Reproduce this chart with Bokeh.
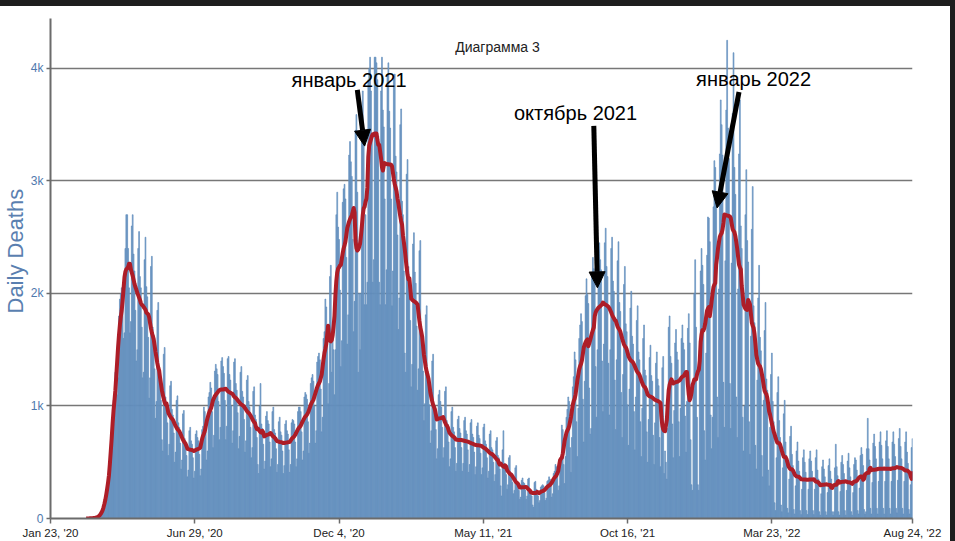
import numpy as np
import pandas as pd
from bokeh.plotting import figure
from bokeh.models import (ColumnDataSource, FixedTicker, Label, Arrow, NormalHead,
                          Spacer, Range1d, Title)
from bokeh.layouts import column, row
from bokeh.embed import file_html
from bokeh.resources import INLINE

# ---------------- data (daily deaths, one row per week Thu..Wed) ----------------
START_DATE = "2020-01-23"
WEEKLY_DEATHS = [
    [0, 0, 0, 0, 0, 0, 0],
    [0, 0, 0, 0, 0, 0, 0],
    [0, 0, 0, 0, 0, 0, 0],
    [0, 0, 0, 0, 0, 0, 0],
    [0, 0, 0, 0, 0, 0, 0],
    [0, 0, 0, 0, 0, 0, 0],
    [1, 1, 2, 1, 3, 4, 5],
    [6, 8, 10, 12, 18, 25, 30],
    [50, 60, 90, 110, 140, 200, 250],
    [300, 380, 450, 500, 600, 900, 1050],
    [1100, 1300, 1250, 1100, 1250, 1800, 1950],
    [2000, 2050, 1900, 1600, 1650, 2400, 2700],
    [2700, 2400, 2050, 1650, 1750, 2600, 2700],
    [2350, 2200, 1850, 1400, 1500, 2400, 2550],
    [2150, 2050, 1700, 1250, 1300, 2300, 2500],
    [2060, 1970, 1610, 1070, 1250, 2240, 2330],
    [1700, 1630, 1330, 890, 1040, 1850, 1920],
    [1350, 1290, 1050, 700, 600, 1460, 1520],
    [1080, 1030, 850, 560, 660, 1180, 1220],
    [970, 920, 760, 500, 590, 1050, 1090],
    [850, 810, 670, 440, 520, 930, 960],
    [710, 680, 560, 370, 430, 780, 810],
    [690, 660, 540, 360, 420, 750, 780],
    [720, 690, 570, 380, 440, 790, 820],
    [990, 950, 770, 520, 600, 1080, 1120],
    [1210, 1160, 950, 630, 740, 1310, 1370],
    [1330, 1280, 1040, 700, 810, 1400, 1430],
    [1350, 1290, 1050, 700, 820, 1420, 1440],
    [1280, 1230, 1000, 670, 780, 1390, 1420],
    [1200, 1140, 940, 620, 730, 1300, 1350],
    [1130, 1080, 880, 590, 690, 1230, 1270],
    [1040, 990, 810, 540, 630, 1130, 1170],
    [920, 880, 720, 480, 400, 1000, 1200],
    [840, 800, 660, 440, 510, 910, 950],
    [870, 840, 680, 460, 530, 950, 990],
    [790, 760, 620, 410, 480, 860, 900],
    [770, 740, 600, 400, 470, 840, 870],
    [780, 750, 610, 410, 480, 850, 880],
    [870, 840, 680, 460, 530, 950, 990],
    [990, 950, 770, 520, 600, 1080, 1120],
    [1100, 1060, 860, 580, 670, 1200, 1250],
    [1280, 1220, 1000, 670, 780, 1390, 1440],
    [1470, 1410, 1150, 770, 900, 1600, 1660],
    [1950, 1880, 1540, 1020, 1200, 2150, 2250],
    [1300, 1600, 1500, 1100, 1500, 2700, 2900],
    [2590, 2480, 2030, 1350, 1580, 2810, 2930],
    [2970, 2840, 2320, 1550, 1810, 3230, 3350],
    [3170, 3040, 2480, 1660, 1930, 3450, 3590],
    [2900, 1300, 2000, 1500, 2000, 3600, 3800],
    [3400, 1900, 2700, 1900, 2100, 3900, 4000],
    [4100, 3800, 3400, 2100, 2300, 4100, 4100],
    [4050, 3900, 3400, 2100, 1900, 3800, 4100],
    [3630, 3480, 2840, 1900, 2210, 3950, 4050],
    [3620, 3470, 2840, 1890, 2200, 3940, 3950],
    [3220, 3080, 2520, 1680, 1960, 3500, 3640],
    [2820, 2700, 2200, 1470, 1300, 3060, 3190],
    [2240, 2150, 1760, 1170, 1370, 2440, 2540],
    [2190, 2090, 1710, 1140, 1330, 2380, 2470],
    [1670, 1600, 1310, 870, 1020, 1810, 1890],
    [1290, 1230, 1010, 670, 780, 1400, 1460],
    [1010, 970, 790, 530, 620, 1100, 1140],
    [1040, 990, 810, 540, 630, 1130, 1170],
    [870, 840, 680, 460, 530, 950, 990],
    [810, 770, 630, 420, 490, 880, 910],
    [800, 760, 630, 420, 490, 870, 900],
    [780, 750, 610, 410, 480, 850, 880],
    [750, 720, 590, 390, 460, 820, 850],
    [740, 710, 580, 390, 450, 810, 840],
    [690, 660, 540, 360, 420, 750, 780],
    [630, 610, 500, 330, 390, 690, 720],
    [560, 540, 440, 290, 200, 610, 780],
    [490, 470, 390, 260, 300, 540, 560],
    [410, 400, 320, 220, 250, 450, 470],
    [320, 300, 250, 170, 190, 340, 360],
    [320, 310, 250, 170, 200, 350, 360],
    [260, 250, 200, 120, 100, 320, 330],
    [260, 250, 200, 140, 160, 280, 290],
    [300, 290, 230, 160, 180, 330, 340],
    [370, 350, 290, 190, 220, 400, 420],
    [480, 460, 380, 250, 290, 530, 550],
    [830, 790, 480, 310, 550, 900, 970],
    [1080, 1040, 630, 410, 720, 1170, 1260],
    [1480, 1410, 860, 550, 980, 1600, 1720],
    [1820, 1750, 1060, 680, 1220, 1980, 2130],
    [1990, 1910, 1160, 750, 800, 2160, 2320],
    [2220, 2130, 1350, 900, 1500, 2400, 2450],
    [2300, 2210, 1400, 950, 1550, 2450, 2580],
    [2240, 2150, 1380, 920, 1500, 2400, 2500],
    [2110, 2020, 1230, 790, 1410, 2290, 2460],
    [1920, 1840, 1120, 720, 1280, 2080, 2240],
    [1730, 1660, 1010, 650, 1150, 1870, 2020],
    [1620, 1550, 950, 610, 1080, 1760, 1890],
    [1480, 1410, 860, 550, 980, 1600, 1720],
    [1320, 1270, 770, 500, 880, 1430, 1540],
    [1270, 1220, 740, 480, 850, 1380, 1480],
    [1240, 1180, 720, 460, 820, 1340, 1440],
    [400, 600, 500, 350, 800, 1700, 1800],
    [1440, 1380, 840, 540, 960, 1560, 1680],
    [1480, 1410, 860, 550, 980, 1600, 1720],
    [1560, 1500, 910, 590, 1040, 1690, 1820],
    [1560, 700, 300, 250, 1200, 2000, 2300],
    [1700, 900, 300, 250, 1500, 2200, 2400],
    [2250, 2080, 780, 520, 1470, 2340, 2680],
    [2670, 2460, 920, 620, 900, 2770, 3180],
    [3120, 2880, 1080, 720, 2040, 3240, 3720],
    [3500, 3230, 1210, 810, 2290, 3630, 4250],
    [3470, 3200, 1200, 800, 2270, 3600, 4140],
    [3120, 2880, 1080, 720, 2040, 3240, 3720],
    [2600, 2400, 900, 600, 1000, 2700, 3100],
    [2470, 2280, 860, 570, 1620, 2570, 2950],
    [1890, 1740, 650, 440, 1230, 1960, 2250],
    [1610, 1490, 560, 370, 1050, 1670, 1920],
    [1240, 1140, 430, 290, 810, 1280, 1470],
    [1040, 860, 140, 70, 540, 1120, 1260],
    [870, 720, 120, 60, 450, 930, 1050],
    [680, 560, 90, 50, 350, 730, 820],
    [570, 470, 80, 40, 290, 600, 680],
    [510, 420, 70, 35, 260, 540, 610],
    [500, 410, 70, 35, 260, 530, 600],
    [510, 420, 70, 35, 260, 540, 610],
    [430, 350, 60, 30, 220, 460, 520],
    [440, 370, 60, 30, 230, 470, 530],
    [420, 350, 60, 30, 60, 450, 660],
    [460, 380, 60, 30, 240, 500, 560],
    [480, 400, 70, 30, 250, 510, 580],
    [450, 370, 60, 30, 230, 480, 540],
    [520, 430, 70, 40, 270, 560, 630],
    [570, 470, 80, 40, 60, 620, 890],
    [620, 520, 90, 40, 320, 670, 750],
    [640, 530, 90, 40, 330, 680, 770],
    [650, 530, 90, 40, 330, 690, 780],
    [640, 530, 90, 40, 330, 680, 770],
    [660, 550, 90, 50, 340, 710, 800],
    [640, 530, 90, 40, 330, 680, 770],
    [590, 490, 80, 40, 300, 630, 710],
]

X_TICK_DATES = ["2020-01-23", "2020-06-29", "2020-12-04", "2021-05-11",
                "2021-10-16", "2022-03-23", "2022-08-24"]
X_TICK_LABELS = ["Jan 23, '20", "Jun 29, '20", "Dec 4, '20", "May 11, '21",
                 "Oct 16, '21", "Mar 23, '22", "Aug 24, '22"]
Y_TICKS = [0, 1000, 2000, 3000, 4000]
Y_TICK_LABELS = ["0", "1k", "2k", "3k", "4k"]
Y_MAX = 4444

TITLE = "Диаграмма 3"
Y_LABEL = "Daily Deaths"

NOTE_TEXTS = ["январь 2021", "октябрь 2021", "январь 2022"]
NOTE_DATES = ["2020-12-15", "2021-08-20", "2022-03-03"]
NOTE_VALUES = [3900, 3600, 3910]
ARROW_FROM_DATES = ["2020-12-24", "2021-09-09", "2022-02-15"]
ARROW_FROM_VALUES = [3810, 3490, 3790]
ARROW_TO_DATES = ["2021-01-01", "2021-09-13", "2022-01-22"]
ARROW_TO_VALUES = [3310, 2050, 2760]

# ---------------- derived ----------------
daily = [v for week in WEEKLY_DEATHS for v in week]
dates = pd.date_range(START_DATE, periods=len(daily), freq="D")
avg = pd.Series(daily, dtype=float).rolling(7, center=True, min_periods=1).mean()
first = int(np.argmax(avg.values > 0))


def ms(d):
    return int(pd.Timestamp(d).value // 10**6)


bars = ColumnDataSource(dict(x=dates, top=daily))
line = ColumnDataSource(dict(x=dates[first:], y=avg.values[first:]))

p = figure(width=950, height=535, x_axis_type="datetime",
           x_range=Range1d(dates[0], dates[-1]), y_range=Range1d(0, Y_MAX),
           output_backend="svg", toolbar_location=None,
           min_border_left=50, min_border_right=38,
           min_border_top=12, min_border_bottom=23)
p.outline_line_color = None
p.background_fill_color = "white"
p.border_fill_color = "white"

p.vbar(x="x", top="top", width=0.95 * 86400000, source=bars,
       fill_color="#7ca5cd", line_color="#5b88b8", line_width=0.6)
p.line(x="x", y="y", source=line, line_color="#ad1d27", line_width=4,
       line_join="round")

# axes
p.xaxis.ticker = FixedTicker(ticks=[ms(d) for d in X_TICK_DATES])
p.xaxis.major_label_overrides = {ms(d): lab for d, lab in zip(X_TICK_DATES, X_TICK_LABELS)}
p.yaxis.ticker = FixedTicker(ticks=Y_TICKS)
p.yaxis.major_label_overrides = {t: lab for t, lab in zip(Y_TICKS, Y_TICK_LABELS)}
p.xaxis.minor_tick_line_color = None
p.yaxis.minor_tick_line_color = None
for ax in (p.xaxis, p.yaxis):
    ax.axis_line_color = "#6b6b6b"
    ax.axis_line_width = 2
    ax.major_tick_line_color = "#6b6b6b"
    ax.major_tick_line_width = 1.5
    ax.major_tick_in = 0
    ax.major_label_text_font = "Liberation Sans"
p.xaxis.major_tick_out = 5
p.yaxis.major_tick_out = 4
p.xaxis.major_label_standoff = 3
p.yaxis.major_label_standoff = 3
p.xaxis.major_label_text_font_size = "11.5px"
p.xaxis.major_label_text_color = "#222222"
p.yaxis.major_label_text_font_size = "12px"
p.yaxis.major_label_text_color = "#4f79ad"

# y axis title, placed on the left side a little above the frame centre
p.add_layout(Title(text=Y_LABEL, align="left", offset=205, standoff=0,
                   text_font="Liberation Sans", text_font_size="22px",
                   text_font_style="normal", text_color="#5a7fb0"), "left")

p.xgrid.visible = False
p.ygrid.ticker = FixedTicker(ticks=Y_TICKS[1:])
p.ygrid.grid_line_color = "#777777"
p.ygrid.grid_line_width = 1.5

# chart title (screen units relative to the frame)
p.add_layout(Label(x=447, y=472, x_units="screen", y_units="screen", text=TITLE,
                   text_align="center", text_baseline="middle",
                   text_font="Liberation Sans", text_font_size="14px",
                   text_color="#222222"))

# annotations
for txt, d, v in zip(NOTE_TEXTS, NOTE_DATES, NOTE_VALUES):
    p.add_layout(Label(x=ms(d), y=v, text=txt, text_align="center",
                       text_baseline="middle", text_font="Liberation Sans",
                       text_font_size="20px", text_color="black"))
for d0, v0, d1, v1 in zip(ARROW_FROM_DATES, ARROW_FROM_VALUES, ARROW_TO_DATES, ARROW_TO_VALUES):
    p.add_layout(Arrow(end=NormalHead(size=16, fill_color="black", line_color="black"),
                       x_start=ms(d0), y_start=v0, x_end=ms(d1), y_end=v1,
                       line_color="black", line_width=5))

top_strip = Spacer(width=955, height=6, styles={"background-color": "#1e1e1e"})
right_strip = Spacer(width=5, height=535, styles={"background-color": "#1e1e1e"})
layout = column(top_strip, row(p, right_strip, spacing=0), spacing=0)

open("out.html", "w").write(file_html(layout, INLINE))
